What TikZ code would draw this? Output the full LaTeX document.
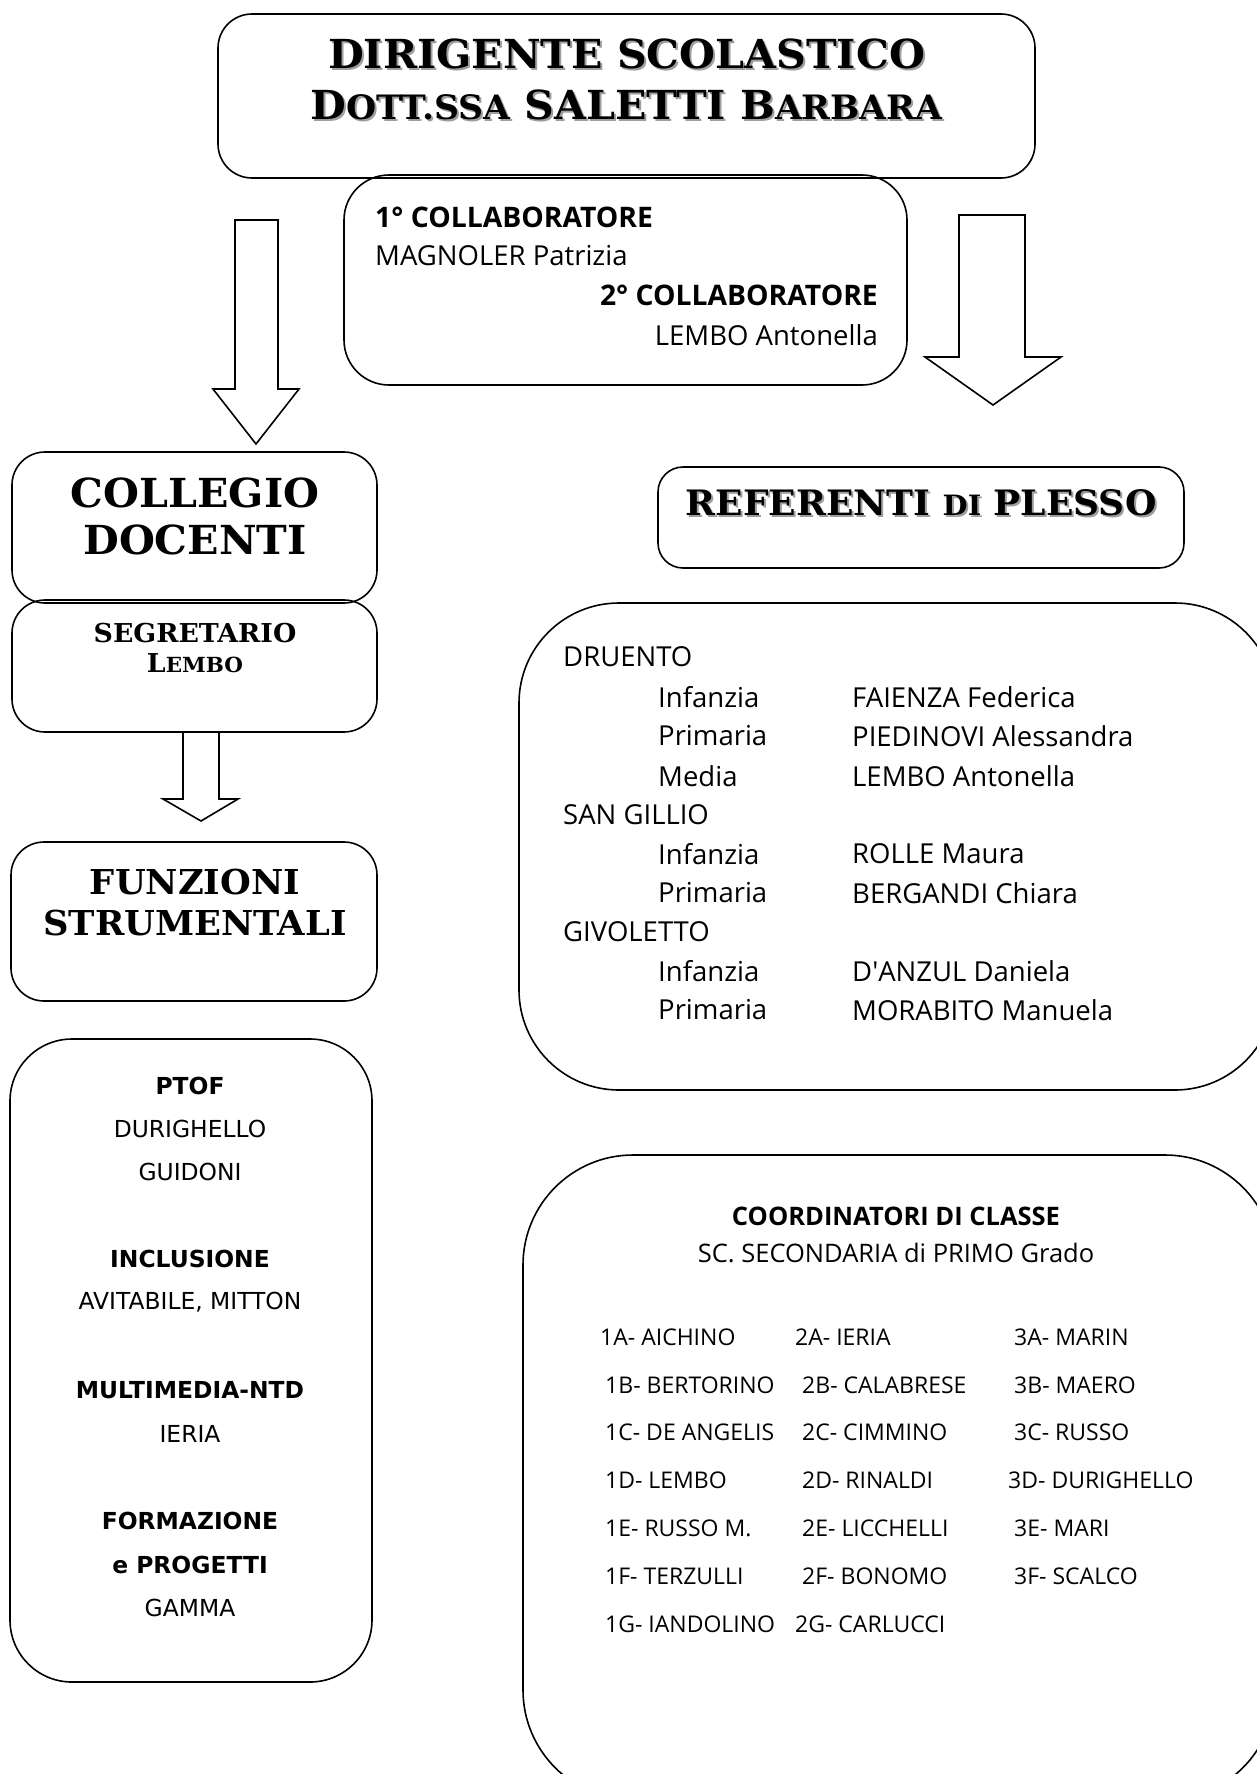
\documentclass[tikz,border=0pt]{standalone}
\usepackage{fontspec}
\usepackage{graphicx}
\usepackage{xcolor}
\usepackage{tikz}
\usetikzlibrary{positioning}
\setmainfont{Open Sans}
\newfontfamily\headfont{DejaVu Serif}[FakeStretch=1.03]
\newfontfamily\listfont{DejaVu Sans}
\newcommand{\minicaps}[1]{\scalebox{0.8}{#1}}
\newcommand{\titlecaps}[1]{\scalebox{0.84}{#1}}
\definecolor{ombra}{gray}{0.62}

\begin{document}
\begin{tikzpicture}[x=1pt,y=-1pt]
\tikzset{
    panel/.style      = {draw=black, line width=1.6pt, inner sep=0pt},
    blockarrow/.style = {draw=black, line width=1.6pt, line join=miter},
    titolo/.style     = {font=\headfont\bfseries\fontsize{40}{42}\selectfont, inner sep=0pt},
    intest/.style     = {font=\headfont\bfseries\fontsize{40}{42}\selectfont, inner sep=0pt},
    voce/.style       = {font=\fontsize{27.5}{30}\selectfont, inner sep=0pt, anchor=west},
    voceb/.style      = {font=\bfseries\fontsize{28.3}{30}\selectfont, inner sep=0pt, anchor=west},
    classe/.style     = {font=\fontsize{23}{26}\selectfont, inner sep=0pt, anchor=west},
    funz/.style       = {font=\listfont\fontsize{23.4}{26}\selectfont, inner sep=0pt},
    funzb/.style      = {font=\listfont\bfseries\fontsize{23.4}{26}\selectfont, inner sep=0pt}
}
\useasboundingbox (0,0) rectangle (1257,1774);
\clip (0,0) rectangle (1257,1774);

\node [panel, rounded corners=34pt, minimum width=817pt, minimum height=164pt] (dirigente) at (626.5,96) {};
\node [panel, rounded corners=45pt, minimum width=563pt, minimum height=210pt] (collaboratori) at (625.5,280) {};
\node [panel, rounded corners=33pt, minimum width=365pt, minimum height=151pt] (collegio) at (194.5,527.5) {};
\node [panel, rounded corners=33pt, minimum width=365pt, minimum height=132pt] (segretario) at (194.5,666) {};
\node [panel, rounded corners=33pt, minimum width=366pt, minimum height=159pt] (funzioni) at (194,921.5) {};
\node [panel, rounded corners=62pt, minimum width=362pt, minimum height=643pt] (elencofs) at (191,1360.5) {};
\node [panel, rounded corners=25pt, minimum width=526pt, minimum height=101pt] (referenti) at (921,517.5) {};
\node [panel, rounded corners=100pt, minimum width=756pt, minimum height=487pt] (plessi) at (897,846.5) {};
\node [panel, rounded corners=110pt, minimum width=752pt, minimum height=645pt] (coordinatori) at (899,1477.5) {};

\draw [blockarrow] (235,220) -- (278,220) -- (278,389) -- (299,389) -- (256,444) -- (213,389) -- (235,389) -- cycle;
\draw [blockarrow] (959,215) -- (1025,215) -- (1025,357) -- (1061,357) -- (993,405) -- (925,357) -- (959,357) -- cycle;
\draw [blockarrow] (183,732) -- (219,732) -- (219,799) -- (238,799) -- (201,821) -- (163,799) -- (183,799) -- cycle;

\node [titolo, text=ombra] (dirigombra) at (628.5,56) {DIRIGENTE SCOLASTICO};
\node [titolo] (dirigtit) at (626.5,54) {DIRIGENTE SCOLASTICO};
\node [titolo, text=ombra] (nomeombra) at (628.5,107) {D\titlecaps{OTT.SSA} SALETTI B\titlecaps{ARBARA}};
\node [titolo] (nometit) at (626.5,105) {D\titlecaps{OTT.SSA} SALETTI B\titlecaps{ARBARA}};

\node [voceb] (collab1) at (375,217) {1° COLLABORATORE};
\node [voce] (collab1nome) at (375,256) {MAGNOLER Patrizia};
\node [voceb, anchor=east] (collab2) at (878,295) {2° COLLABORATORE};
\node [voce, anchor=east] (collab2nome) at (878,335) {LEMBO Antonella};

\node [intest] (collegiotit) at (195,493) {COLLEGIO};
\node [intest] (docentitit) at (195,540) {DOCENTI};
\node [intest, font=\headfont\bfseries\fontsize{26}{28}\selectfont] (segretit) at (195,633) {SEGRETARIO};
\node [intest, font=\headfont\bfseries\fontsize{26}{28}\selectfont] (segrenome) at (195,663) {L\minicaps{EMBO}};
\node [intest, font=\headfont\bfseries\fontsize{34.3}{36}\selectfont] (funztit) at (195,882) {FUNZIONI};
\node [intest, font=\headfont\bfseries\fontsize{34.3}{36}\selectfont] (strumtit) at (195,923) {STRUMENTALI};

\node [funzb] (ptof) at (190,1086) {PTOF};
\node [funz] (ptof1) at (190,1129) {DURIGHELLO};
\node [funz] (ptof2) at (190,1172) {GUIDONI};
\node [funzb] (inclusione) at (190,1259) {INCLUSIONE};
\node [funz] (inclusione1) at (190,1302) {AVITABILE, MITTON};
\node [funzb] (multimedia) at (190,1390) {MULTIMEDIA-NTD};
\node [funz] (multimedia1) at (190,1434) {IERIA};
\node [funzb] (formazione) at (190,1521) {FORMAZIONE};
\node [funzb] (progetti) at (190,1565) {e PROGETTI};
\node [funz] (progetti1) at (190,1608) {GAMMA};

\node [intest, font=\headfont\bfseries\fontsize{35}{36}\selectfont, text=ombra] (refombra) at (923,505) {REFERENTI \minicaps{DI} PLESSO};
\node [intest, font=\headfont\bfseries\fontsize{35}{36}\selectfont] (referentitit) at (921,503) {REFERENTI \minicaps{DI} PLESSO};

\node [voce] (druento) at (563,657) {DRUENTO};
\node [voce] (druinf) at (658,697) {Infanzia};
\node [voce] (druinfn) at (852,697) {FAIENZA Federica};
\node [voce] (drupri) at (658,736) {Primaria};
\node [voce] (druprin) at (852,736) {PIEDINOVI Alessandra};
\node [voce] (drumed) at (658,776) {Media};
\node [voce] (drumedn) at (852,776) {LEMBO Antonella};
\node [voce] (sangillio) at (563,815) {SAN GILLIO};
\node [voce] (sginf) at (658,854) {Infanzia};
\node [voce] (sginfn) at (852,854) {ROLLE Maura};
\node [voce] (sgpri) at (658,893) {Primaria};
\node [voce] (sgprin) at (852,893) {BERGANDI Chiara};
\node [voce] (givoletto) at (563,932) {GIVOLETTO};
\node [voce] (gvinf) at (658,971) {Infanzia};
\node [voce] (gvinfn) at (852,971) {D\textquotesingle ANZUL Daniela};
\node [voce] (gvpri) at (658,1010) {Primaria};
\node [voce] (gvprin) at (852,1010) {MORABITO Manuela};

\node [voceb, anchor=center, font=\bfseries\fontsize{25.5}{27}\selectfont] (coordtit) at (896,1216) {COORDINATORI DI CLASSE};
\node [voce, anchor=center, font=\fontsize{25.5}{27}\selectfont] (coordsub) at (896,1253) {SC. SECONDARIA di PRIMO Grado};

\node [classe] (c1a) at (600,1337) {1A- AICHINO};
\node [classe] (c1b) at (605,1385) {1B- BERTORINO};
\node [classe] (c1c) at (605,1432) {1C- DE ANGELIS};
\node [classe] (c1d) at (605,1480) {1D- LEMBO};
\node [classe] (c1e) at (605,1528) {1E- RUSSO M.};
\node [classe] (c1f) at (605,1576) {1F- TERZULLI};
\node [classe] (c1g) at (605,1624) {1G- IANDOLINO};
\node [classe] (c2a) at (795,1337) {2A- IERIA};
\node [classe] (c2b) at (802,1385) {2B- CALABRESE};
\node [classe] (c2c) at (802,1432) {2C- CIMMINO};
\node [classe] (c2d) at (802,1480) {2D- RINALDI};
\node [classe] (c2e) at (802,1528) {2E- LICCHELLI};
\node [classe] (c2f) at (802,1576) {2F- BONOMO};
\node [classe] (c2g) at (795,1624) {2G- CARLUCCI};
\node [classe] (c3a) at (1014,1337) {3A- MARIN};
\node [classe] (c3b) at (1014,1385) {3B- MAERO};
\node [classe] (c3c) at (1014,1432) {3C- RUSSO};
\node [classe] (c3d) at (1008,1480) {3D- DURIGHELLO};
\node [classe] (c3e) at (1014,1528) {3E- MARI};
\node [classe] (c3f) at (1014,1576) {3F- SCALCO};
\end{tikzpicture}
\end{document}
